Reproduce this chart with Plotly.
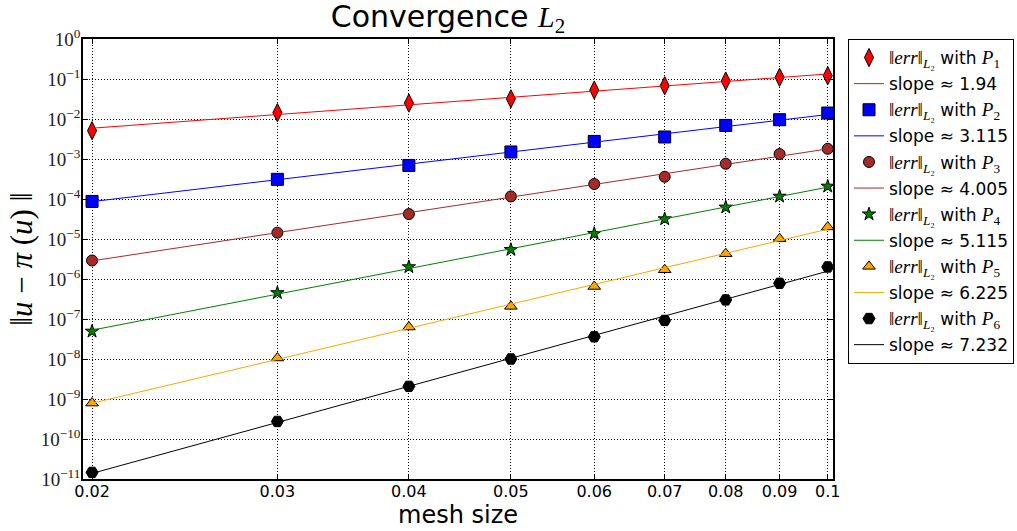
import numpy as np
import plotly.graph_objects as go

mesh_sizes = [0.02, 0.03, 0.04, 0.05, 0.06, 0.07, 0.08, 0.09, 0.1]
x_tick_labels = ["0.02", "0.03", "0.04", "0.05", "0.06", "0.07", "0.08", "0.09", "0.1"]

err_P1 = [5.1e-3, 1.44e-2, 2.5e-2, 3.2e-2, 5.3e-2, 6.8e-2, 8.9e-2, 1.1e-1, 1.21e-1]
err_P2 = [8.7e-5, 3.1e-4, 6.9e-4, 1.5e-3, 2.75e-3, 3.55e-3, 6.9e-3, 9.6e-3, 1.41e-2]
err_P3 = [2.9e-6, 1.44e-5, 4.2e-5, 1.16e-4, 2.37e-4, 3.6e-4, 7.6e-4, 1.33e-3, 1.8e-3]
err_P4 = [4.9e-8, 4.5e-7, 2.0e-6, 5.4e-6, 1.36e-5, 3.16e-5, 6.2e-5, 1.16e-4, 2.07e-4]
err_P5 = [7.9e-10, 1.06e-8, 6.3e-8, 2.07e-7, 6.5e-7, 1.7e-6, 4.3e-6, 1.02e-5, 2.0e-5]
err_P6 = [1.46e-11, 2.75e-10, 2.07e-9, 1.0e-8, 3.6e-8, 9.2e-8, 3.0e-7, 7.8e-7, 2.0e-6]

slopes = [1.94, 3.115, 4.005, 5.115, 6.225, 7.232]
slope_labels = ["1.94", "3.115", "4.005", "5.115", "6.225", "7.232"]
degrees = ["1", "2", "3", "4", "5", "6"]

y_tick_exponents = [0, -1, -2, -3, -4, -5, -6, -7, -8, -9, -10, -11]

series = [err_P1, err_P2, err_P3, err_P4, err_P5, err_P6]
colors = ["#ff0000", "#0000ff", "#a52a2a", "#008000", "#ffa500", "#000000"]
symbols = ["diamond-tall", "square", "circle", "star", "triangle-up", "hexagon2"]
msizes = [13, 12, 11, 10, 11, 12]

SERIF = "Liberation Serif, Times New Roman, serif"
SANS = "DejaVu Sans, Verdana, sans-serif"


def serif(t, size=None):
    st = "font-family:Liberation Serif"
    if size:
        st += ";font-size:%dpx" % size
    return "<span style='" + st + "'>" + t + "</span>"


fig = go.Figure()
h = np.array(mesh_sizes)
lh = np.log10(h)
k = 0
for err, s, lab, deg, col, sym, ms in zip(series, slopes, slope_labels, degrees, colors, symbols, msizes):
    ly = np.log10(np.array(err))
    c = np.mean(ly - s * lh)
    line_y = 10 ** (c + s * lh)
    fig.add_trace(go.Scatter(
        x=mesh_sizes, y=err, mode="markers",
        marker=dict(symbol=sym, size=ms, color=col, line=dict(color="black", width=1)),
        name=serif("‖<i>err</i>‖<sub><i>L</i>₂</sub>", 19) + " with " + serif("<i>P</i><sub>" + deg + "</sub>", 19),
        legendgroup="g%d" % k,
    ))
    k += 1
    fig.add_trace(go.Scatter(
        x=mesh_sizes, y=line_y, mode="lines",
        line=dict(color=col, width=1),
        name="slope ≈ " + lab,
        legendgroup="g%d" % k,
    ))
    k += 1

y_tick_vals = [10.0 ** e for e in y_tick_exponents]
y_tick_text = ["10<sup>" + str(e).replace("-", "−") + "</sup>" for e in y_tick_exponents]

grid_dash = "1px,2px"
L, R, T, B = 83, 833, 39.3, 479.3
W, H = 1017, 531

fig.update_layout(
    width=W, height=H,
    margin=dict(l=L, r=W - R, t=T, b=H - B, autoexpand=False),
    paper_bgcolor="white", plot_bgcolor="white",
    title=dict(text="Convergence " + serif("<i>L</i><sub>2</sub>"),
               x=448 / W, xref="container", xanchor="center",
               y=1 - 16 / H, yref="container", yanchor="middle",
               font=dict(family=SANS, size=30, color="black")),
    showlegend=True,
    legend=dict(x=(848 - L) / (R - L), y=1.0, xanchor="left", yanchor="top",
                bordercolor="black", borderwidth=1, bgcolor="white",
                font=dict(family=SANS, size=17, color="black"),
                tracegroupgap=1, itemwidth=30),
    xaxis=dict(
        type="log", range=[np.log10(0.02) - 0.0086, np.log10(0.1) + 0.005],
        tickvals=mesh_sizes, ticktext=x_tick_labels, automargin=False,
        tickfont=dict(family=SANS, size=16, color="black"),
        ticklabelstandoff=-3,
        showgrid=True, gridcolor="black", griddash=grid_dash, gridwidth=1,
        showline=True, linecolor="black", linewidth=1.5, mirror="ticks",
        ticks="inside", ticklen=5, tickcolor="black",
        zeroline=False,
    ),
    yaxis=dict(
        type="log", range=[-11, 0], automargin=False,
        tickvals=y_tick_vals, ticktext=y_tick_text,
        tickfont=dict(family=SERIF, size=19, color="#222"),
        ticklabelstandoff=-3,
        showgrid=True, gridcolor="black", griddash=grid_dash, gridwidth=1,
        showline=True, linecolor="black", linewidth=1.5, mirror="ticks",
        ticks="inside", ticklen=5, tickcolor="black",
        zeroline=False,
    ),
    annotations=[
        dict(text="mesh size", xref="paper", yref="paper", x=0.5, y=(B - 515) / (B - T),
             xanchor="center", yanchor="middle", showarrow=False,
             font=dict(family=SANS, size=24, color="black")),
        dict(text="‖<i>u</i> − <i>π</i> (<i>u</i>) ‖", xref="paper", yref="paper",
             x=(22 - L) / (R - L), y=(B - 260) / (B - T), xanchor="center", yanchor="middle",
             textangle=-90, showarrow=False,
             font=dict(family=SERIF, size=31, color="black")),
    ],
)

fig.write_html("out.html", config={"displayModeBar": False},
               post_script="document.body.style.margin='0px';")
